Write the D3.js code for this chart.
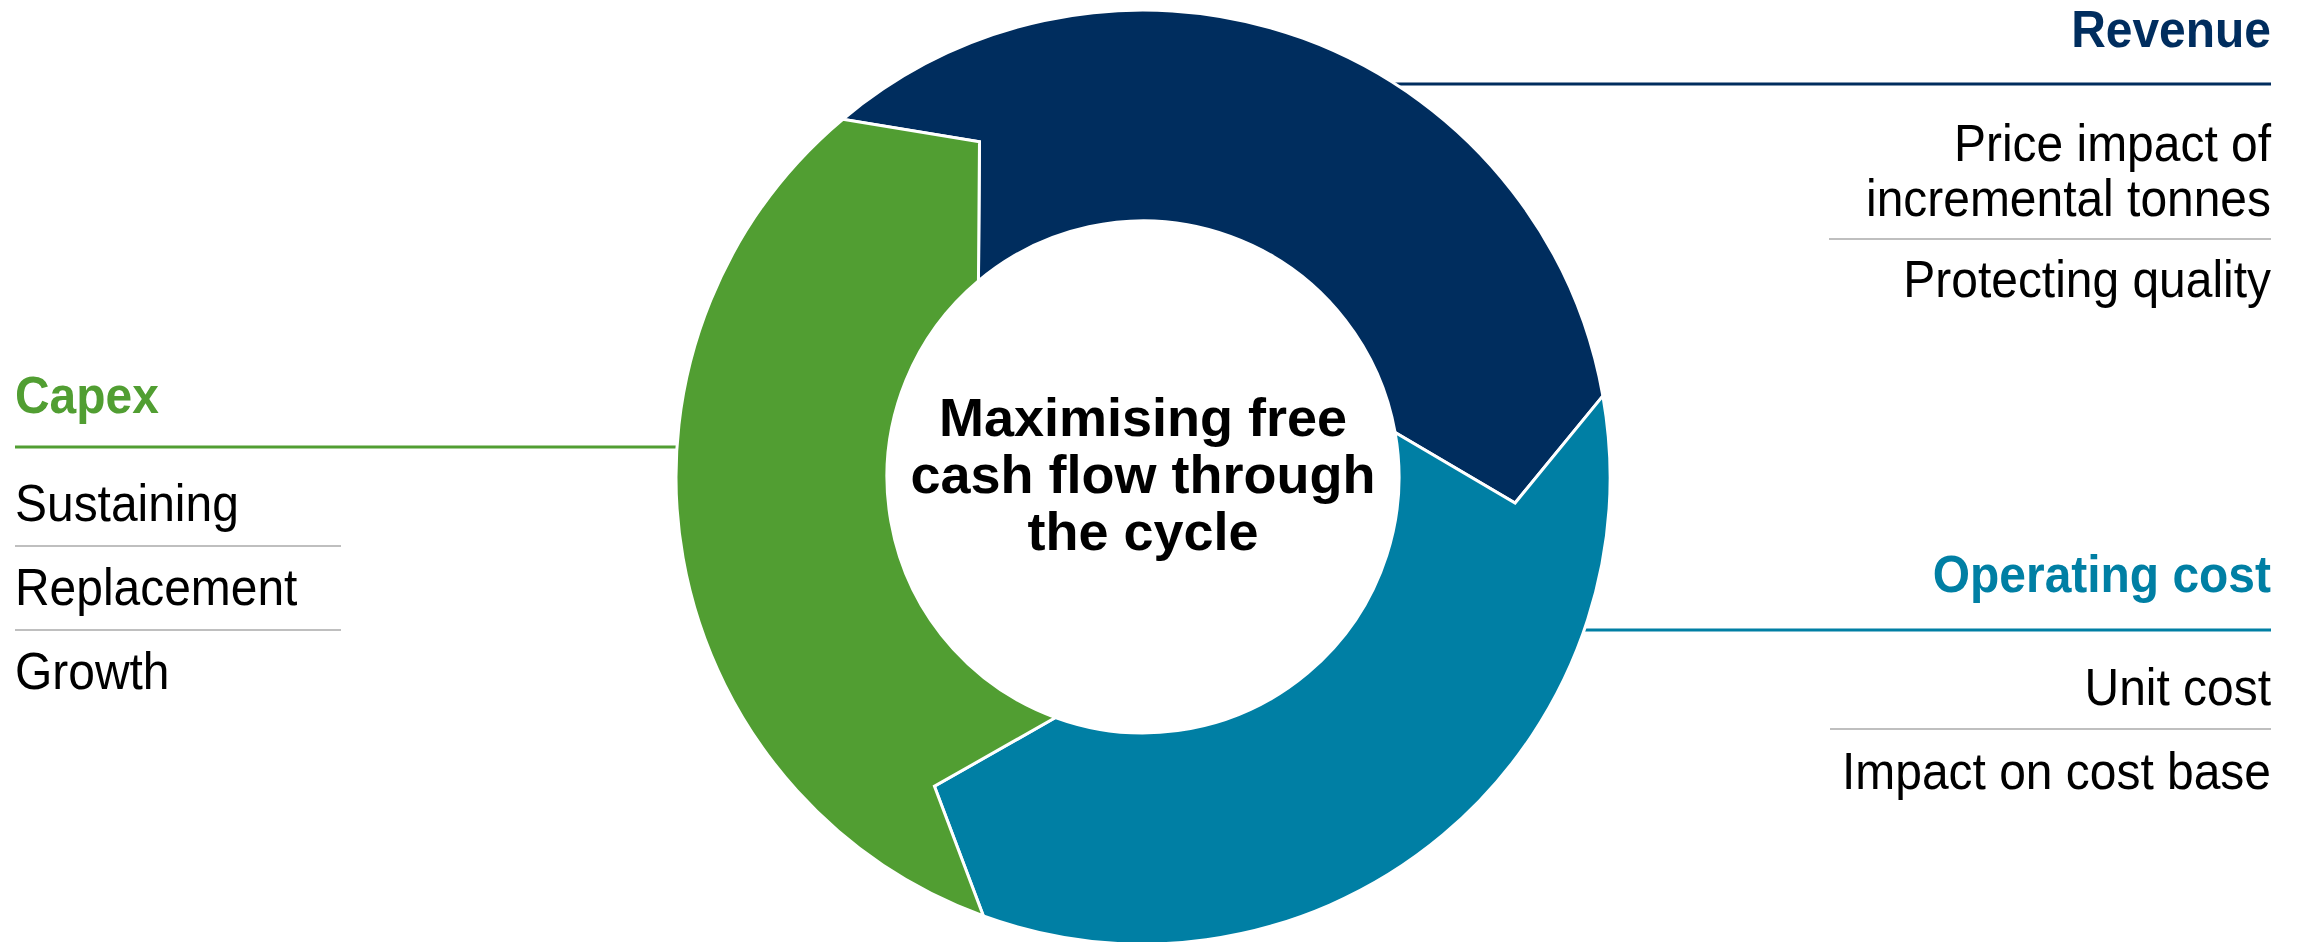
<!DOCTYPE html>
<html>
<head>
<meta charset="utf-8">
<script src="https://cdnjs.cloudflare.com/ajax/libs/d3/7.8.5/d3.min.js"></script>
<style>
  html, body { margin: 0; padding: 0; background: #fff; }
  text { font-family: "Liberation Sans", Arial, sans-serif; }
</style>
</head>
<body>
<div id="viz"></div>
<script>
// segments of the cycle, clockwise from the top-left
var segments = ["Revenue", "Operating cost", "Capex"];
var segmentShares = [1, 1, 1];

var revenueItems = [["Price impact of", "incremental tonnes"], ["Protecting quality"]];
var operatingItems = [["Unit cost"], ["Impact on cost base"]];
var capexItems = [["Sustaining"], ["Replacement"], ["Growth"]];
var centreTitle = ["Maximising free", "cash flow through", "the cycle"];

var width = 2303, height = 942;
var cx = 1143, cy = 477;
var outerR = 467, innerR = 256, tipR = 373;
var tipAngle = 14 * Math.PI / 180;
var rad = Math.PI / 180;
var squeeze = 0.94; // the original type is a touch narrower than Liberation Sans

var color = d3.scaleOrdinal()
    .domain(segments)
    .range(["#002D5E", "#007FA4", "#519E32"]);

var svg = d3.select("#viz")
    .append("svg")
    .attr("width", width)
    .attr("height", height);

var pie = d3.pie()
    .sort(null)
    .value(function(d) { return d; })
    .startAngle(-40 * rad)
    .endAngle(320 * rad);

var arcs = pie(segmentShares);

// x of the ring's outer edge on a given row
function edgeX(y, side) {
  var dy = y - cy;
  return cx + side * Math.sqrt(outerR * outerR - dy * dy);
}

function label(g, x, y, anchor, size, weight, fill, txt, sx) {
  return g.append("text")
      .attr("transform", "translate(" + x + "," + y + ") scale(" + sx + ",1)")
      .attr("text-anchor", anchor)
      .style("font-size", size + "px")
      .style("font-weight", weight)
      .style("fill", fill)
      .text(txt);
}

var side = svg.append("g").attr("class", "labels");
var fs = 51, lineH = 55;

function block(opts) {
  label(side, opts.x, opts.headY, opts.anchor, fs, "bold", color(opts.name), opts.name, squeeze);

  // coloured rule running into the ring
  side.append("line")
      .attr("x1", opts.ruleFrom)
      .attr("x2", opts.ruleTo)
      .attr("y1", opts.ruleY)
      .attr("y2", opts.ruleY)
      .style("stroke", color(opts.name))
      .style("stroke-width", 3);

  var y = opts.firstY;
  opts.items.forEach(function(lines, i) {
    if (i > 0) {
      side.append("line")
          .attr("x1", opts.greyFrom)
          .attr("x2", opts.greyTo)
          .attr("y1", y - opts.greyUp)
          .attr("y2", y - opts.greyUp)
          .style("stroke", "#BFBFBF")
          .style("stroke-width", 2);
    }
    lines.forEach(function(l, j) {
      label(side, opts.x, y + j * lineH, opts.anchor, fs, "normal", "#000", l, squeeze);
    });
    y += (lines.length - 1) * lineH + opts.step;
  });
}

block({name: segments[0], items: revenueItems, x: 2271, anchor: "end",
       headY: 47, ruleY: 84, ruleFrom: edgeX(84, 1) - 10, ruleTo: 2271,
       firstY: 161, step: 81, greyFrom: 1829, greyTo: 2271, greyUp: 58});

block({name: segments[1], items: operatingItems, x: 2271, anchor: "end",
       headY: 592, ruleY: 630, ruleFrom: edgeX(630, 1) - 10, ruleTo: 2271,
       firstY: 705, step: 84, greyFrom: 1830, greyTo: 2271, greyUp: 60});

block({name: segments[2], items: capexItems, x: 15, anchor: "start",
       headY: 413, ruleY: 447, ruleFrom: 15, ruleTo: edgeX(447, -1) + 10,
       firstY: 521, step: 84, greyFrom: 15, greyTo: 341, greyUp: 59});

// chevron shaped ring segment: head pokes clockwise into the next one
function chevron(d) {
  var a0 = d.startAngle, a1 = d.endAngle;
  function pt(a, r) { return [r * Math.sin(a), -r * Math.cos(a)]; }
  var p = d3.path();
  var s = pt(a0, outerR);
  p.moveTo(s[0], s[1]);
  p.arc(0, 0, outerR, a0 - Math.PI / 2, a1 - Math.PI / 2, false);
  var h = pt(a1 + tipAngle, tipR);
  p.lineTo(h[0], h[1]);
  var e = pt(a1, innerR);
  p.lineTo(e[0], e[1]);
  p.arc(0, 0, innerR, a1 - Math.PI / 2, a0 - Math.PI / 2, true);
  var n = pt(a0 + tipAngle, tipR);
  p.lineTo(n[0], n[1]);
  p.closePath();
  return p.toString();
}

var ring = svg.append("g")
    .attr("class", "ring")
    .attr("transform", "translate(" + cx + "," + cy + ")");

ring.selectAll("path")
    .data(arcs)
  .enter().append("path")
    .attr("d", chevron)
    .style("fill", function(d, i) { return color(segments[i]); })
    .style("stroke", "#fff")
    .style("stroke-width", 3)
    .style("stroke-linejoin", "miter");

centreTitle.forEach(function(t, i) {
  label(ring, 0, -41 + i * 57, "middle", 54, "bold", "#000", t, 1);
});
</script>
</body>
</html>
